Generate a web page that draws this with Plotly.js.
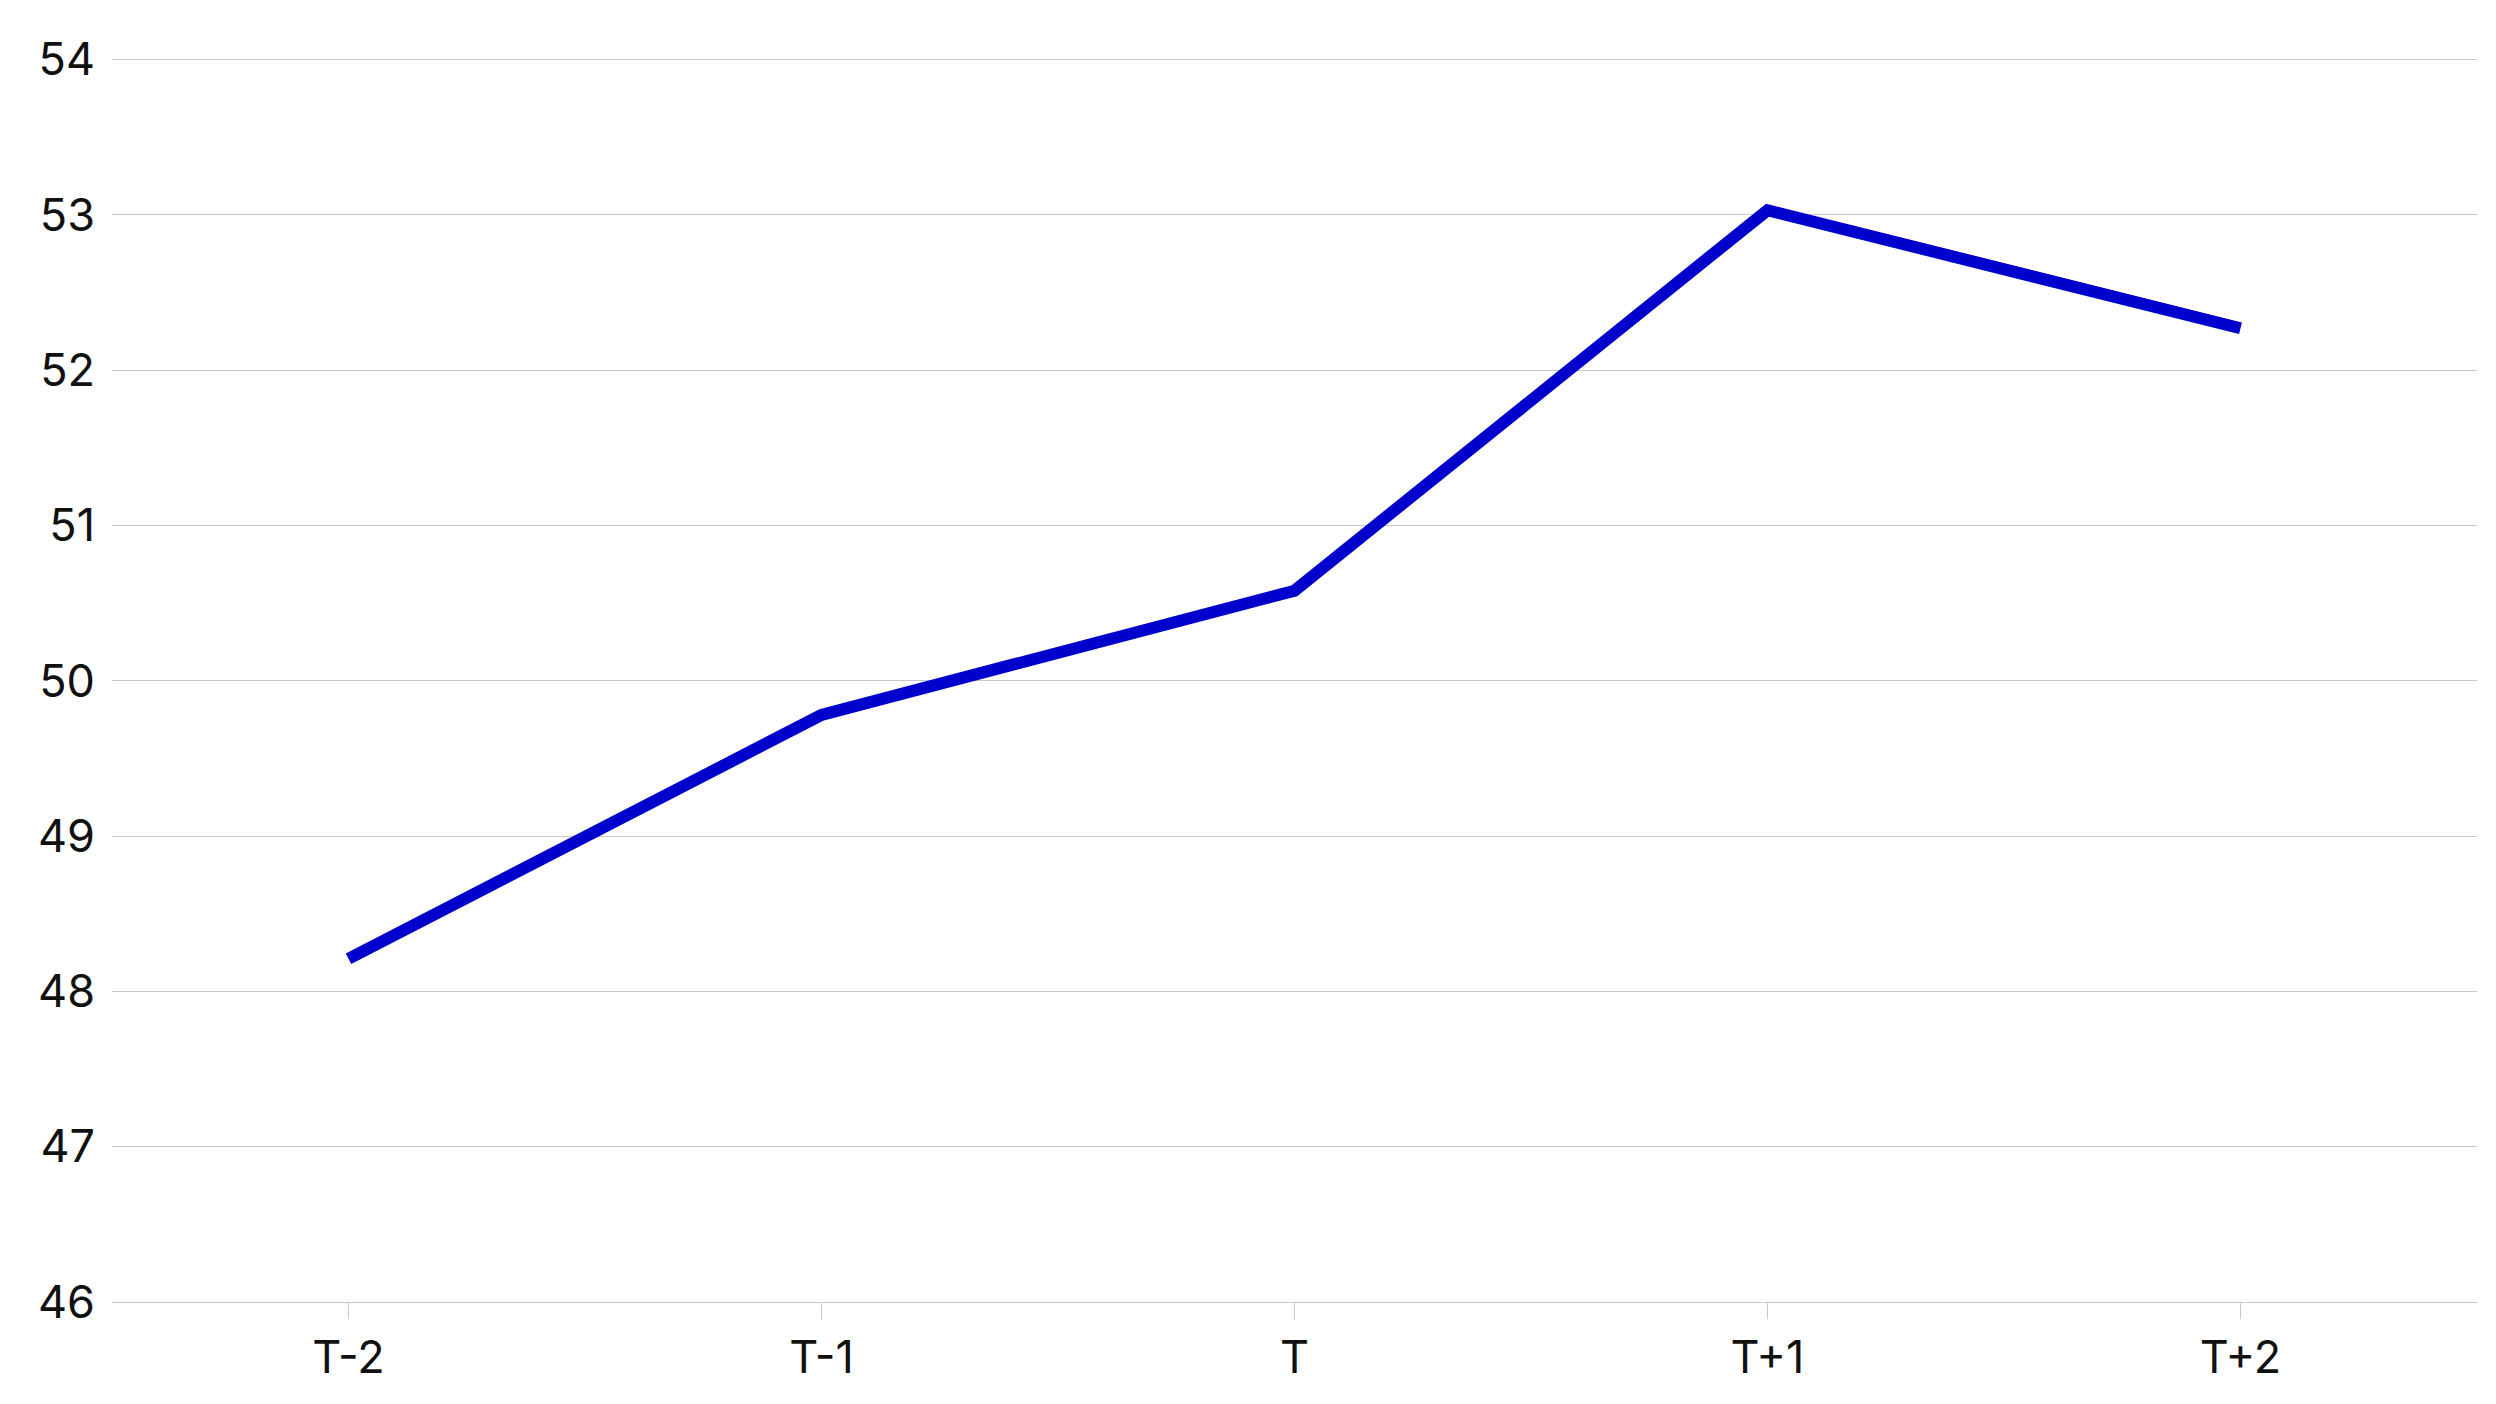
<!DOCTYPE html>
<html>
<head>
<meta charset="utf-8">
<script src="https://cdn.plot.ly/plotly-3.0.1.min.js"></script>
<style>
  html, body { margin: 0; padding: 0; background: #ffffff; }
  #chart { width: 2496px; height: 1404px; }
</style>
</head>
<body>
<div id="chart"></div>
<script>
// categories and the single series
const periods = ['T-2', 'T-1', 'T', 'T+1', 'T+2'];
const values = [48.21, 49.78, 50.58, 53.03, 52.27];
const yTicks = [46, 47, 48, 49, 50, 51, 52, 53, 54];

const data = [
    {
        x: periods,
        y: values,
        mode: 'lines',
        type: 'scatter',
        line: { color: '#0000cc', width: 12 },
        hoverinfo: 'skip'
    }
];

const layout = {
    width: 2496,
    height: 1404,
    margin: { l: 112, r: 19, t: 58, b: 102 },
    paper_bgcolor: '#ffffff',
    plot_bgcolor: '#ffffff',
    showlegend: false,
    font: { family: 'Inter, Roboto, sans-serif', size: 45, color: '#111111' },
    xaxis: {
        type: 'category',
        range: [-0.5, 4.5],
        showgrid: false,
        showline: true,
        linecolor: '#c8c8c8',
        linewidth: 1,
        ticks: 'outside',
        ticklen: 16,
        tickcolor: '#c8c8c8',
        tickwidth: 1,
        zeroline: false
    },
    yaxis: {
        range: [46, 54.01],
        tickvals: yTicks,
        showgrid: true,
        gridcolor: '#c8c8c8',
        gridwidth: 1,
        zeroline: false,
        showline: false,
        ticks: '',
        ticklabelstandoff: 16
    }
};

Plotly.newPlot('chart', data, layout, { displayModeBar: false, staticPlot: true });
</script>
</body>
</html>
